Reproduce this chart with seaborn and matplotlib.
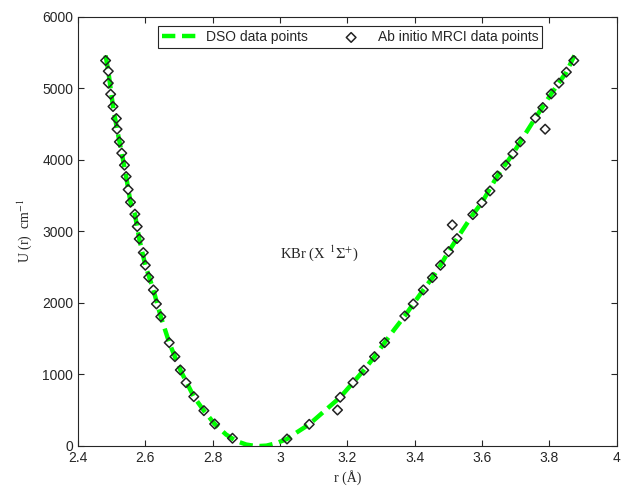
import matplotlib
matplotlib.use("Agg")
import matplotlib.pyplot as plt
import seaborn as sns
import pandas as pd

# Ab initio MRCI data points (r in Angstrom, U in cm^-1)
mrci_r = [2.482, 2.490, 2.490, 2.497, 2.504, 2.514, 2.516, 2.523, 2.530, 2.538,
          2.543, 2.549, 2.556, 2.569, 2.576, 2.582, 2.594, 2.600, 2.610, 2.624,
          2.633, 2.646, 2.671, 2.688, 2.704, 2.721, 2.744, 2.774, 2.806, 2.859,
          3.021, 3.087, 3.171, 3.179, 3.217, 3.249, 3.281, 3.311, 3.371, 3.396,
          3.426, 3.453, 3.477, 3.501, 3.512, 3.526, 3.573, 3.600, 3.624, 3.646,
          3.671, 3.692, 3.714, 3.759, 3.781, 3.788, 3.806, 3.829, 3.851, 3.873]
mrci_u = [5389, 5240, 5073, 4918, 4746, 4578, 4429, 4252, 4094, 3926,
          3767, 3585, 3408, 3241, 3068, 2895, 2704, 2527, 2359, 2182,
          1986, 1808, 1445, 1249, 1063, 885, 690, 494, 308, 108,
          98, 303, 503, 681, 885, 1059, 1249, 1445, 1818, 1986,
          2182, 2354, 2527, 2718, 3091, 2900, 3235, 3403, 3566, 3776,
          3926, 4084, 4252, 4587, 4732, 4429, 4923, 5073, 5227, 5389]

# DSO curve points
dso_r = [2.482, 2.490, 2.504, 2.516, 2.530, 2.543, 2.556, 2.569, 2.582, 2.600,
         2.624, 2.646, 2.671, 2.704, 2.744, 2.774, 2.806, 2.840, 2.870, 2.900,
         2.920, 2.940, 2.960, 2.990, 3.021, 3.050, 3.087, 3.130, 3.179, 3.217,
         3.249, 3.281, 3.311, 3.340, 3.371, 3.396, 3.426, 3.453, 3.477, 3.501,
         3.526, 3.573, 3.600, 3.646, 3.692, 3.714, 3.759, 3.806, 3.851, 3.875]
dso_u = [5460, 5240, 4746, 4429, 4094, 3767, 3408, 3241, 2895, 2527,
         2182, 1808, 1445, 1063, 690, 494, 308, 160, 70, 20,
         5, 0, 5, 40, 98, 190, 303, 480, 681, 885,
         1059, 1249, 1445, 1630, 1818, 1986, 2182, 2354, 2527, 2718,
         2900, 3235, 3403, 3776, 4084, 4252, 4587, 4923, 5227, 5460]

legend_labels = ["DSO data points", "Ab initio MRCI data points"]
x_ticks = [2.4, 2.6, 2.8, 3.0, 3.2, 3.4, 3.6, 3.8, 4.0]
x_ticklabels = ["2.4", "2.6", "2.8", "3", "3.2", "3.4", "3.6", "3.8", "4"]
y_ticks = [0, 1000, 2000, 3000, 4000, 5000, 6000]

sns.set_style("white")
plt.rcParams['font.family'] = ['Liberation Sans', 'DejaVu Sans']
plt.rcParams['mathtext.fontset'] = 'stix'

fig = plt.figure(figsize=(6.24, 4.95), dpi=100)
ax = fig.add_axes([0.125, 0.099, 0.863, 0.867])

dso_df = pd.DataFrame({"r": dso_r, "U": dso_u})
mrci_df = pd.DataFrame({"r": mrci_r, "U": mrci_u})

sns.lineplot(data=dso_df, x="r", y="U", ax=ax, color="#00ff00", linewidth=3.2,
             sort=False, label=legend_labels[0], zorder=2)
ax.lines[0].set_dashes((3.0, 1.5))

sns.scatterplot(data=mrci_df, x="r", y="U", ax=ax, marker="D", s=24,
                facecolor="none", edgecolor="#222222", linewidth=1.1,
                label=legend_labels[1], zorder=3)

ax.set_xlim(2.4, 4.0)
ax.set_ylim(0, 6000)
ax.set_xticks(x_ticks)
ax.set_xticklabels(x_ticklabels)
ax.set_yticks(y_ticks)
ax.tick_params(direction="in", length=4, width=0.8, colors="#262626",
               labelsize=10, top=True, right=True, bottom=True, left=True,
               labelcolor="#262626")
for s in ax.spines.values():
    s.set_color("#262626")
    s.set_linewidth(0.8)

ax.set_xlabel("r (Å)", family=["Liberation Serif", "DejaVu Serif"], fontsize=10,
              color="#262626", labelpad=4)
ax.set_ylabel("U (r)  cm$^{-1}$", family=["Liberation Serif", "DejaVu Serif"],
              fontsize=10, color="#262626", labelpad=6)

ax.text(3.0, 2700, r"KBr (X $^{\,1}\Sigma^{+}$)", family=["Liberation Serif", "DejaVu Serif"],
        fontsize=10.5, ha="left", va="center", color="#262626")

leg = ax.legend(loc="upper center", ncol=2, fontsize=10, frameon=True,
                fancybox=False, edgecolor="#262626", framealpha=1,
                borderpad=0.3, handlelength=2.6, columnspacing=1.8,
                handletextpad=0.6, bbox_to_anchor=(0.505, 0.995))
leg.get_frame().set_linewidth(0.8)

fig.savefig("out.png", dpi=100)
